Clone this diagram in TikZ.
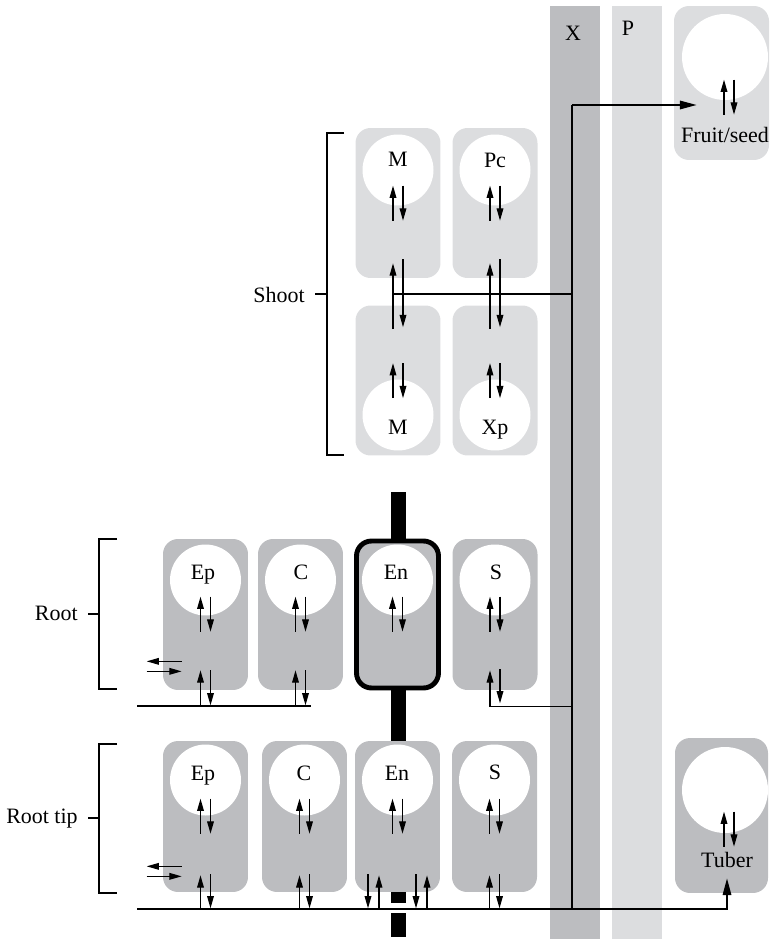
\documentclass[tikz,border=0pt]{standalone}
\usepackage{fontspec}
\setmainfont{Liberation Serif}
\usetikzlibrary{arrows.meta,calc}

\definecolor{lightcell}{RGB}{220,221,223}
\definecolor{darkcell}{RGB}{188,189,192}

\tikzset{
  shootcell/.style={fill=lightcell, rounded corners=0.3cm, minimum width=1.7cm, minimum height=3cm, inner sep=0pt},
  rootcell/.style={shootcell, fill=darkcell, minimum height=3.02cm},
  vac/.style={circle, fill=white, minimum size=1.42cm, inner sep=0pt},
  flux/.style={line width=0.7pt, -{Triangle[length=7pt,width=3.8pt]}},
  link/.style={line width=1pt},
  bigtip/.style={-{Triangle[length=9.5pt,width=4.8pt]}},
  bracket/.style={line width=0.6pt},
  lbl/.style={font=\fontsize{12.5}{14}\selectfont, anchor=base, inner sep=0pt},
}

\begin{document}
\begin{tikzpicture}[x=0.02cm, y=-0.02cm]
    \useasboundingbox (0,0) rectangle (769,939);

    % Xylem and phloem
    \fill[darkcell] (550,6) rectangle (600,939);
    \fill[lightcell] (612,6) rectangle (662,939);
    \node[lbl] (xl) at (573,41) {X};
    \node[lbl] (pl) at (628,36) {P};

    % Casparian band
    \fill (391,492) rectangle (406,937);

    % Shoot cells
    \node[shootcell] (mt) at (398,203) {};
    \node[shootcell] (pc) at (495,203) {};
    \node[shootcell] (mb) at (398,380.5) {};
    \node[shootcell] (xp) at (495,380.5) {};
    \node[vac] (mtv) at (398,170) {};
    \node[vac] (pcv) at (495,170) {};
    \node[vac] (mbv) at (398,415) {};
    \node[vac] (xpv) at (495,415) {};
    \node[lbl] (mtl) at (398,167) {M};
    \node[lbl] (pcl) at (495,168) {Pc};
    \node[lbl] (mbl) at (398,434) {M};
    \node[lbl] (xpl) at (495,434) {Xp};

    % Root cells
    \node[rootcell] (ep) at (205.5,614.5) {};
    \node[rootcell] (c) at (300.5,614.5) {};
    \node[rootcell, draw, line width=2.8pt, minimum width=1.64cm, minimum height=2.94cm] (en) at (397.5,614.5) {};
    \node[rootcell] (s) at (495,614.5) {};
    \node[vac] (epv) at (205.5,580) {};
    \node[vac] (cv) at (300.5,580) {};
    \node[vac] (env) at (397.5,580) {};
    \node[vac] (sv) at (495,580) {};
    \node[lbl] (epl) at (203,579) {Ep};
    \node[lbl] (cl) at (301,579) {C};
    \node[lbl] (enl) at (396,579) {En};
    \node[lbl] (sl) at (496,579) {S};

    % Root tip cells
    \node[rootcell] (ept) at (205.5,816.5) {};
    \node[rootcell] (ct) at (304.5,816.5) {};
    \node[rootcell] (ent) at (397.5,816.5) {};
    \node[rootcell] (st) at (494.5,816.5) {};
    \node[vac] (eptv) at (205.5,780) {};
    \node[vac] (ctv) at (304.5,780) {};
    \node[vac] (entv) at (397.5,780) {};
    \node[vac] (stv) at (494.5,780) {};
    \node[lbl] (eptl) at (203,780) {Ep};
    \node[lbl] (ctl) at (304,780) {C};
    \node[lbl] (entl) at (397,780) {En};
    \node[lbl] (stl) at (495,779) {S};

    % Sink organs
    \node[shootcell, minimum width=1.9cm, minimum height=3.08cm] (fruit) at (721.5,83) {};
    \node[vac, minimum size=1.72cm] (fruitv) at (725,57) {};
    \node[lbl] (fruitl) at (725,143) {Fruit/seed};
    \node[rootcell, minimum width=1.86cm, minimum height=3.1cm] (tuber) at (721.5,815.5) {};
    \node[vac, minimum size=1.72cm] (tuberv) at (725,790) {};
    \node[lbl] (tuberl) at (727,867) {Tuber};

    % Exchange between vacuole and cytosol
    \foreach \cell in {mt,pc,mb,xp,ep,c,en,s,ept,ct,ent,st}{
        \draw[flux] ($(\cell.north)+(-5,93)$) -- ++(0,-35);
        \draw[flux] ($(\cell.north)+(5,58)$) -- ++(0,35);
    }
    \foreach \cell in {fruit,tuber}{
        \draw[flux] ($(\cell.north)+(2.5,109)$) -- ++(0,-35);
        \draw[flux] ($(\cell.north)+(12.5,74)$) -- ++(0,35);
    }

    % Shoot transfer
    \foreach \up/\dn in {mt/mb,pc/xp}{
        \draw[flux] ($(\dn.north)+(-5,24)$) -- ($(\up.south)+(-5,-15)$);
        \draw[flux] ($(\up.south)+(5,-19)$) -- ($(\dn.north)+(5,22)$);
    }

    % Root exchange with the line
    \foreach \cell in {ep,c}{
        \draw[flux] ($(\cell.south)+(-5,16)$) -- ++(0,-36);
        \draw[flux] ($(\cell.south)+(5,-20)$) -- ++(0,35);
    }
    \draw[flux] ($(s.south)+(5,-21)$) -- ++(0,34);
    \foreach \cell in {ept,ct,st}{
        \draw[flux] ($(\cell.south)+(-5,17)$) -- ++(0,-34);
        \draw[flux] ($(\cell.south)+(5,-18)$) -- ++(0,34);
    }
    \foreach \dx in {-29.5,18.5}{
        \draw[flux] ($(ent.south)+(\dx,-18)$) -- ++(0,34);
        \draw[flux] ($(ent.south)+(\dx+11,17)$) -- ++(0,-34);
    }

    % Uptake and efflux at the epidermis
    \draw[flux] ($(ep.south west)+(19,-29)$) -- ++(-35,0);
    \draw[flux] ($(ep.south west)+(-16,-19)$) -- ++(35,0);
    \draw[flux] ($(ept.south west)+(19,-26)$) -- ++(-35,0);
    \draw[flux] ($(ept.south west)+(-16,-16)$) -- ++(35,0);

    % Long-distance route
    \coordinate (xtop) at (572,105);
    \coordinate (xbot) at (572,909);
    \coordinate (fin) at ($(fruit.west)+(23,22)$);
    \draw[link, line width=0.9pt] (xbot) -- (xtop);
    \draw[link, bigtip] (xtop) -- (fin);

    \coordinate (mj) at ($(mt.south)+(-5,16)$);
    \draw[link] (mj) -- (mj -| xtop);

    \coordinate (sr) at ($(s.south)+(-5,16)$);
    \draw[flux] (sr -| xtop) -- (sr) -- ++(0,-36);

    \coordinate (rl) at ($(ep.south)+(-68.5,16)$);
    \coordinate (rr) at ($(c.south)+(10.5,16)$);
    \draw[link] (rl) -- (rr);

    \fill[white] (391,903) rectangle (406,913);
    \coordinate (tl) at ($(ept.south)+(-68.5,17)$);
    \coordinate (tin) at ($(tuber.south)+(5.5,-15)$);
    \draw[link, bigtip] (tl) -- (tl -| tin) -- (tin);

    % Brackets
    \draw[bracket] (344,133) -| (327,455) -- (344,455);
    \draw[bracket] (315,294) -- (327,294);
    \node[lbl, anchor=base east] (shoot) at (305,302) {Shoot};
    \draw[bracket] (117,539) -| (99,689) -- (117,689);
    \draw[bracket] (88,614) -- (99,614);
    \node[lbl, anchor=base east] (root) at (78,620) {Root};
    \draw[bracket] (117,744) -| (99,893) -- (117,893);
    \draw[bracket] (88,818) -- (99,818);
    \node[lbl, anchor=base east] (roottip) at (78,823) {Root tip};
\end{tikzpicture}
\end{document}
